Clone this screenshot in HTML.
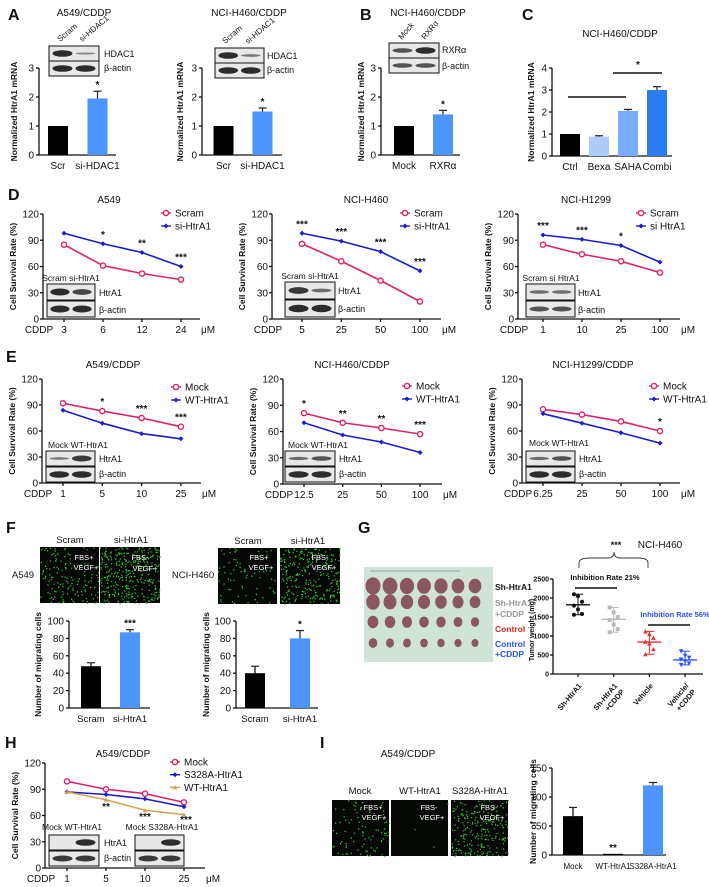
<!DOCTYPE html>
<html><head><meta charset="utf-8">
<style>
html,body{margin:0;padding:0;background:#fff;}
svg{display:block;font-family:"Liberation Sans Narrow","Liberation Sans",sans-serif;}
</style></head>
<body>
<svg id="s" width="709" height="887" viewBox="0 0 709 887" xmlns="http://www.w3.org/2000/svg"></svg>
<script>
// ---------- DATA ----------
const yTicks3 = [0,1,2,3];
const cTicks = [0,1,2,3,4];
const a1Cats = ['Scr','si-HDAC1'];
const a1Vals = [1,1.95];
const a1Errs = [0,0.25];
const a2Cats = ['Scr','si-HDAC1'];
const a2Vals = [1,1.5];
const a2Errs = [0,0.12];
const bCats = ['Mock','RXRα'];
const bVals = [1,1.4];
const bErrs = [0,0.14];
const cCats = ['Ctrl','Bexa','SAHA','Combi'];
const cVals = [1,0.88,2.05,3.0];
const cErrs = [0,0.04,0.07,0.15];

const survTicks = [0,30,60,90,120];
const dA549Doses = ['3','6','12','24'];
const dA549Scram = [85,61,52,45];
const dA549Si = [98,86,76,60];
const dA549Stars = ['','*','**','***'];
const dH460Doses = ['5','25','50','100'];
const dH460Scram = [86,66,44,20];
const dH460Si = [98,89,77,55];
const dH460Stars = ['***','***','***','***'];
const dH1299Doses = ['1','10','25','100'];
const dH1299Scram = [85,74,66,53];
const dH1299Si = [96,91,84,65];
const dH1299Stars = ['***','***','*',''];

const eA549Doses = ['1','5','10','25'];
const eA549Mock = [92,83,75,65];
const eA549WT = [84,69,57,51];
const eA549Stars = ['','*','***','***'];
const eH460Doses = ['12.5','25','50','100'];
const eH460Mock = [81,70,64,57];
const eH460WT = [70,56,48,36];
const eH460Stars = ['*','**','**','***'];
const eH1299Doses = ['6.25','25','50','100'];
const eH1299Mock = [85,79,71,60];
const eH1299WT = [80,69,58,46];
const eH1299Stars = ['','','','*'];

const migTicks = [0,20,40,60,80,100];
const fCats = ['Scram','si-HtrA1'];
const fA549Vals = [48,87];
const fA549Errs = [4,3];
const fH460Vals = [40,80];
const fH460Errs = [8,9];

const gCats = ['Sh-HtrA1','Sh-HtrA1 +CDDP','Vehicle','Vehicle/ +CDDP'];
const gTicks = [0,500,1000,1500,2000,2500];
const gSh = [2100,2050,1900,1800,1700,1580,1560];
const gShC = [1750,1620,1500,1420,1300,1180,1100];
const gVeh = [1120,1050,950,850,800,650,520];
const gVehC = [600,480,430,380,330,280,240];
const gMed = [1820,1440,840,370];

const hDoses = ['1','5','10','25'];
const hMock = [99,90,85,75];
const hS328 = [87,84,79,70];
const hWT = [87,78,66,61];
const hStars = ['','**','***','***'];

const iTicks = [0,50,100,150];
const iCats = ['Mock','WT-HtrA1','S328A-HtrA1'];
const iVals = [67,2,120];
const iErrs = [15,0,5];

// ---------- HELPERS ----------
const NS='http://www.w3.org/2000/svg';
const S=document.getElementById('s');
function el(tag,attrs,name,parent){
  const e=document.createElementNS(NS,tag);
  for(const k in attrs)e.setAttribute(k,attrs[k]);
  
  
  (parent||S).appendChild(e);return e;
}
function tx(x,y,s,size,name,o){
  o=o||{};
  const e=el('text',{x:x,y:y,'font-size':size,'text-anchor':o.a||'middle',fill:o.fill||'#111','font-weight':o.w||'normal'},name);
  if(o.rot)e.setAttribute('transform','rotate('+o.rot+' '+x+' '+y+')');
  e.textContent=s;return e;
}
function ln(x1,y1,x2,y2,name,c,w){return el('line',{x1:x1,y1:y1,x2:x2,y2:y2,stroke:c||'#111','stroke-width':w||1.3},name);}
function blot(x,y,w,h,bands,name){
  el('rect',{x:x,y:y,width:w,height:h,fill:'#e8e8e8',stroke:'#111','stroke-width':1},name);
  bands.forEach((b,i)=>{
    el('ellipse',{cx:x+w*(0.27+0.46*i),cy:y+h/2,rx:w*0.2,ry:h*0.22*b,fill:'#222',opacity:0.3+0.65*Math.min(1,b)},name+'-band');
  });
}
function micro(x,y,w,h,dens,name){
  el('rect',{x:x,y:y,width:w,height:h,fill:'#050805'},name);
  let seed=Math.floor(x*7+y*13);
  function r(){seed=(seed*9301+49297)%233280;return seed/233280;}
  let d='';
  for(let i=0;i<dens;i++){const px=x+r()*w,py=y+r()*h;d+='M'+px.toFixed(1)+' '+py.toFixed(1)+'h1.2v1.2h-1.2z';}
  el('path',{d:d,fill:'#3ccc3c'},name+'-cells');
}
function barChart(c){
  const sy=v=>c.y0-v*c.k;
  const topV=c.ticks[c.ticks.length-1];
  ln(c.ax,c.y0,c.ax,sy(topV),c.id+'-y-axis');
  ln(c.ax,c.y0,c.xEnd,c.y0,c.id+'-x-axis');
  c.ticks.forEach(t=>{ln(c.ax-3,sy(t),c.ax,sy(t),c.id+'-y-tick');tx(c.ax-5,sy(t)+3.5,String(t),c.fs||10,c.id+'-y-tick-label',{a:'end'});});
  c.vals.forEach((v,i)=>{
    const cx=c.x0+i*c.step;
    el('rect',{x:cx-c.bw/2,y:sy(v),width:c.bw,height:v*c.k,fill:c.colors[i]},c.id+'-bar-'+i);
    if(c.errs[i]>0){ln(cx,sy(v),cx,sy(v+c.errs[i]),c.id+'-err',c.colors[i]==='#000'?'#000':'#222',1.2);ln(cx-4,sy(v+c.errs[i]),cx+4,sy(v+c.errs[i]),c.id+'-err-cap','#222',1.2);}
    tx(cx,c.y0+14,c.cats[i],c.lfs||10,c.id+'-x-label');
    if(c.stars&&c.stars[i])tx(cx,sy(v+c.errs[i])-3,c.stars[i],10,c.id+'-sig',{w:'bold'});
  });
  tx(c.ytx,(c.y0+sy(topV))/2,c.ytitle,c.yfs||8.5,c.id+'-y-title',{rot:-90,w:'bold'});
}
function marker(x,y,kind,col,name){
  if(kind==='o')el('circle',{cx:x,cy:y,r:2.6,fill:'#fff',stroke:col,'stroke-width':1.4},name);
  else if(kind==='t')el('path',{d:'M'+(x-2.3)+' '+(y+2)+'L'+x+' '+(y-2.3)+'L'+(x+2.3)+' '+(y+2)+'z',fill:col},name);
  else el('path',{d:'M'+(x-2.5)+' '+y+'L'+x+' '+(y-2.5)+'L'+(x+2.5)+' '+y+'L'+x+' '+(y+2.5)+'z',fill:col},name);
}
function lineChart(c){
  const sy=v=>c.y0-v*(c.y0-c.yTop)/120;
  const sx=i=>c.x0+i*c.step;
  ln(c.ax,c.y0,c.ax,c.yTop,c.id+'-y-axis');
  ln(c.ax,c.y0,c.xEnd,c.y0,c.id+'-x-axis');
  survTicks.forEach(t=>{ln(c.ax-3,sy(t),c.ax,sy(t),c.id+'-y-tick');tx(c.ax-4,sy(t)+3.5,String(t),10,c.id+'-y-tick-label',{a:'end'});});
  c.doses.forEach((d,i)=>{ln(sx(i),c.y0,sx(i),c.y0+3,c.id+'-x-tick');tx(sx(i),c.y0+14,d,10,c.id+'-x-label');});
  tx(c.ax-4,c.y0+14,'CDDP',10,c.id+'-cddp-label');
  tx(c.xEnd+8,c.y0+14,'μM',10,c.id+'-unit-label');
  tx(c.ax-27,(c.y0+c.yTop)/2,'Cell Survival Rate (%)',8.5,c.id+'-y-title',{rot:-90,w:'bold'});
  c.series.forEach((s,k)=>{
    let d='';s.vals.forEach((v,i)=>{d+=(i?'L':'M')+sx(i)+' '+sy(v);});
    el('path',{d:d,fill:'none',stroke:s.col,'stroke-width':1.6},c.id+'-line-'+s.name);
    s.vals.forEach((v,i)=>marker(sx(i),sy(v),s.m,s.col,c.id+'-point-'+s.name));
    const ly=c.legY+k*c.legStep;
    ln(c.legX-5,ly,c.legX+5,ly,c.id+'-legend-line',s.col,1.4);
    marker(c.legX,ly,s.m,s.col,c.id+'-legend-marker');
    tx(c.legX+9,ly+3.5,s.name,10,c.id+'-legend-entry',{a:'start'});
  });
  c.stars.forEach((st,i)=>{if(st){const m=Math.max(...c.series.map(s=>s.vals[i]));tx(sx(i),sy(m)-6,st,10,c.id+'-sig',{w:'bold'});}});
}

// ---------- PANEL LETTERS ----------
[['A',8,20],['B',360,20],['C',522,20],['D',8,200],['E',6,362],['F',6,533],['G',358,533],['H',5,748],['I',320,748]].forEach(p=>tx(p[1],p[2],p[0],16,'panel-label-'+p[0],{w:'bold',a:'start'}));

// ---------- A / B / C ----------
tx(84,16,'A549/CDDP',10,'panel-a1-title');
tx(249,16,'NCI-H460/CDDP',10,'panel-a2-title');
tx(428,16,'NCI-H460/CDDP',10,'panel-b-title');
tx(620,37,'NCI-H460/CDDP',10,'panel-c-title');
tx(60,42,'Scram',8,'a1-lane-scram',{rot:-40,a:'start'});
tx(82,42,'si-HDAC1',8,'a1-lane-si',{rot:-40,a:'start'});
blot(49,46,50,15,[1,0.3],'a1-blot-hdac1');blot(49,61,50,15,[1,1],'a1-blot-actin');
tx(104,57,'HDAC1',9,'a1-blot-label',{a:'start'});tx(104,71,'β-actin',9,'a1-blot-label',{a:'start'});
tx(225,44,'Scram',8,'a2-lane-scram',{rot:-40,a:'start'});tx(248,44,'si-HDAC1',8,'a2-lane-si',{rot:-40,a:'start'});
blot(215,48,49,15,[1,0.4],'a2-blot-hdac1');blot(215,63,49,15,[1,1],'a2-blot-actin');
tx(267,59,'HDAC1',9,'a2-blot-label',{a:'start'});tx(267,73,'β-actin',9,'a2-blot-label',{a:'start'});
tx(402,40,'Mock',8,'b-lane-mock',{rot:-50,a:'start'});tx(425,40,'RXRα',8,'b-lane-rxr',{rot:-50,a:'start'});
blot(389,43,50,15,[0.7,1],'b-blot-rxr');blot(389,58,50,15,[0.7,0.7],'b-blot-actin');
tx(442,53,'RXRα',9,'b-blot-label',{a:'start'});tx(442,69,'β-actin',9,'b-blot-label',{a:'start'});

barChart({id:'a1',ax:39,y0:155,k:29,ticks:yTicks3,cats:a1Cats,vals:a1Vals,errs:a1Errs,stars:['','*'],colors:['#000','#4d94ff'],x0:58,step:39.5,bw:20,xEnd:116,ytx:17,ytitle:'Normalized HtrA1 mRNA'});
barChart({id:'a2',ax:202,y0:155,k:29,ticks:yTicks3,cats:a2Cats,vals:a2Vals,errs:a2Errs,stars:['','*'],colors:['#000','#4d94ff'],x0:223.5,step:39,bw:20,xEnd:282,ytx:183,ytitle:'Normalized HtrA1 mRNA'});
barChart({id:'b',ax:381,y0:155,k:29,ticks:yTicks3,cats:bCats,vals:bVals,errs:bErrs,stars:['','*'],colors:['#000','#4d94ff'],x0:404,step:39,bw:20,xEnd:460,ytx:364,ytitle:'Normalized HtrA1 mRNA'});
barChart({id:'c',ax:552,y0:156,k:22,ticks:cTicks,cats:cCats,vals:cVals,errs:cErrs,colors:['#000','#aecbfa','#79acff','#2a7df0'],x0:570,step:29,bw:20,xEnd:672,ytx:534,ytitle:'Normalized HtrA1 mRNA'});
ln(568,97,626,97,'c-sig-bar-1','#111',1.6);ln(613,73,662,73,'c-sig-bar-2','#111',1.6);tx(638,68,'*',10,'c-sig',{w:'bold'});

// ---------- D ----------
const pink='#e0226e',blue='#1c1ccc',tan='#d4a050';
tx(109,203,'A549',10,'d1-title');tx(366,203,'NCI-H460',10,'d2-title');tx(586,203,'NCI-H1299',10,'d3-title');
lineChart({id:'d1',ax:43,y0:319,yTop:214,x0:64,step:39,xEnd:200,doses:dA549Doses,stars:dA549Stars,legX:166,legY:213,legStep:13,
  series:[{name:'Scram',vals:dA549Scram,col:pink,m:'o'},{name:'si-HtrA1',vals:dA549Si,col:blue,m:'d'}]});
lineChart({id:'d2',ax:272,y0:319,yTop:214,x0:302,step:39.3,xEnd:441,doses:dH460Doses,stars:dH460Stars,legX:405,legY:213,legStep:13,
  series:[{name:'Scram',vals:dH460Scram,col:pink,m:'o'},{name:'si-HtrA1',vals:dH460Si,col:blue,m:'d'}]});
lineChart({id:'d3',ax:518,y0:319,yTop:214,x0:543,step:39,xEnd:680,doses:dH1299Doses,stars:dH1299Stars,legX:641,legY:213,legStep:13,
  series:[{name:'Scram',vals:dH1299Scram,col:pink,m:'o'},{name:'si HtrA1',vals:dH1299Si,col:blue,m:'d'}]});
tx(71,281,'Scram si-HtrA1',8.5,'d1-blot-lanes');blot(47,284,48,16,[1,0.8],'d1-blot-htra1');blot(47,301,48,16,[1,1],'d1-blot-actin');
tx(99,296,'HtrA1',9,'d1-blot-label',{a:'start'});tx(99,313,'β-actin',9,'d1-blot-label',{a:'start'});
tx(310,279,'Scram si-HtrA1',8.5,'d2-blot-lanes');blot(285,282,50,17,[0.9,0.5],'d2-blot-htra1');blot(285,300,50,17,[1,1],'d2-blot-actin');
tx(338,294,'HtrA1',9,'d2-blot-label',{a:'start'});tx(338,312,'β-actin',9,'d2-blot-label',{a:'start'});
tx(551,281,'Scram  si HtrA1',8.5,'d3-blot-lanes');blot(526,284,49,16,[0.5,0.5],'d3-blot-htra1');blot(526,301,49,16,[0.7,0.7],'d3-blot-actin');
tx(578,296,'HtrA1',9,'d3-blot-label',{a:'start'});tx(578,313,'β-actin',9,'d3-blot-label',{a:'start'});

// ---------- E ----------
tx(113,368,'A549/CDDP',10,'e1-title');tx(352,368,'NCI-H460/CDDP',10,'e2-title');tx(593,368,'NCI-H1299/CDDP',10,'e3-title');
lineChart({id:'e1',ax:42,y0:483,yTop:379,x0:63,step:39.3,xEnd:201,doses:eA549Doses,stars:eA549Stars,legX:176,legY:387,legStep:13,
  series:[{name:'Mock',vals:eA549Mock,col:pink,m:'o'},{name:'WT-HtrA1',vals:eA549WT,col:blue,m:'d'}]});
lineChart({id:'e2',ax:283,y0:484,yTop:379,x0:304,step:38.7,xEnd:442,doses:eH460Doses,stars:eH460Stars,legX:407,legY:386,legStep:13,
  series:[{name:'Mock',vals:eH460Mock,col:pink,m:'o'},{name:'WT-HtrA1',vals:eH460WT,col:blue,m:'d'}]});
lineChart({id:'e3',ax:522,y0:483,yTop:379,x0:543,step:39,xEnd:680,doses:eH1299Doses,stars:eH1299Stars,legX:654,legY:386,legStep:13,
  series:[{name:'Mock',vals:eH1299Mock,col:pink,m:'o'},{name:'WT-HtrA1',vals:eH1299WT,col:blue,m:'d'}]});
tx(78,448,'Mock  WT-HtrA1',8.5,'e1-blot-lanes');blot(46,451,49,15,[0.4,0.9],'e1-blot-htra1');blot(46,467,49,15,[1,1],'e1-blot-actin');
tx(99,462,'HtrA1',9,'e1-blot-label',{a:'start'});tx(99,477,'β-actin',9,'e1-blot-label',{a:'start'});
tx(318,448,'Mock  WT-HtrA1',8.5,'e2-blot-lanes');blot(285,451,50,15,[0.5,0.7],'e2-blot-htra1');blot(285,467,50,15,[1,1],'e2-blot-actin');
tx(339,462,'HtrA1',9,'e2-blot-label',{a:'start'});tx(339,477,'β-actin',9,'e2-blot-label',{a:'start'});
tx(559,446,'Mock  WT-HtrA1',8.5,'e3-blot-lanes');blot(526,451,49,15,[0.5,0.7],'e3-blot-htra1');blot(526,467,49,15,[1,1],'e3-blot-actin');
tx(579,462,'HtrA1',9,'e3-blot-label',{a:'start'});tx(579,477,'β-actin',9,'e3-blot-label',{a:'start'});

// ---------- F ----------
tx(70,543,'Scram',9.5,'f1-col-scram');tx(131,543,'si-HtrA1',9.5,'f1-col-si');
tx(23,578,'A549',9.5,'f1-row-label');
micro(40,547,59,56,140,'f1-img-scram');micro(100,547,60,56,320,'f1-img-si');
tx(248,544,'Scram',9.5,'f2-col-scram');tx(308,544,'si-HtrA1',9.5,'f2-col-si');
tx(193,578,'NCI-H460',9.5,'f2-row-label');
micro(218,548,59,56,70,'f2-img-scram');micro(280,548,60,56,260,'f2-img-si');
[[84,560,'FBS+'],[86,570,'VEGF+'],[140,560,'FBS-'],[145,571,'VEGF+'],[259,560,'FBS+'],[261,570,'VEGF+'],[320,560,'FBS-'],[324,570,'VEGF+']].forEach(l=>tx(l[0],l[1],l[2],7.5,'f-img-tag',{fill:'#fff'}));
barChart({id:'f1',ax:69,y0:708,k:0.87,ticks:migTicks,cats:fCats,vals:fA549Vals,errs:fA549Errs,stars:['','***'],colors:['#000','#4d94ff'],x0:91,step:39,bw:20,xEnd:150,ytx:41,ytitle:'Number of migrating cells',lfs:9.5});
barChart({id:'f2',ax:236,y0:708,k:0.87,ticks:migTicks,cats:fCats,vals:fH460Vals,errs:fH460Errs,stars:['','*'],colors:['#000','#4d94ff'],x0:255,step:45,bw:20,xEnd:318,ytx:209,ytitle:'Number of migrating cells',lfs:9.5});

// ---------- G ----------
el('rect',{x:364,y:567,width:129,height:95,fill:'#cfe3d6'},'g-tumor-photo');
ln(370,571,460,571,'g-ruler','#888',0.8);
[[gSh,586],[gShC,602],[gVeh,622],[gVehC,643]].forEach((row,r)=>{
  row[0].forEach((v,i)=>{const rr=3+v/2100*4.5;el('ellipse',{cx:373+i*17,cy:row[1],rx:rr,ry:rr*1.15,fill:'#8a5660'},'g-tumor');});
});
tx(495,590,'Sh-HtrA1',8.5,'g-label-sh',{a:'start',w:'bold'});
tx(495,606,'Sh-HtrA1',8.5,'g-label-shc',{a:'start',fill:'#999',w:'bold'});tx(495,617,'+CDDP',8.5,'g-label-shc2',{a:'start',fill:'#999',w:'bold'});
tx(495,632,'Control',8.5,'g-label-ctrl',{a:'start',fill:'#f02020',w:'bold'});
tx(495,647,'Control',8.5,'g-label-ctrlc',{a:'start',fill:'#2a50ff',w:'bold'});tx(495,657,'+CDDP',8.5,'g-label-ctrlc2',{a:'start',fill:'#2a50ff',w:'bold'});
(function(){
  const ax=553,y0=674,k=95/2500,sy=v=>y0-v*k;
  const xs=i=>578+i*35.7;
  ln(ax,y0,ax,sy(2500),'g-y-axis');ln(ax,y0,703,y0,'g-x-axis');
  gTicks.forEach(t=>{ln(ax-3,sy(t),ax,sy(t),'g-y-tick');tx(ax-4,sy(t)+2.5,String(t),7,'g-y-tick-label',{a:'end',w:'bold'});});
  tx(534,630,'Tumor weight  (mg)',7,'g-y-title',{rot:-90,w:'bold'});
  const groups=[gSh,gShC,gVeh,gVehC],cols=['#111','#bbb','#f03030','#2a50ff'];
  groups.forEach((g,i)=>{
    const cx=xs(i);ln(cx,y0,cx,y0+3,'g-x-tick');
    g.forEach((v,j)=>{const dx=((j%3)-1)*4;
      if(i===0)el('circle',{cx:cx+dx,cy:sy(v),r:2,fill:cols[i]},'g-point');
      else if(i===1)el('rect',{x:cx+dx-2,y:sy(v)-2,width:4,height:4,fill:cols[i]},'g-point');
      else if(i===2)marker(cx+dx,sy(v),'t',cols[i],'g-point');
      else el('path',{d:'M'+(cx+dx-2.3)+' '+(sy(v)-2)+'L'+(cx+dx)+' '+(sy(v)+2.3)+'L'+(cx+dx+2.3)+' '+(sy(v)-2)+'z',fill:cols[i]},'g-point');
    });
    ln(cx-12,sy(gMed[i]),cx+12,sy(gMed[i]),'g-median',cols[i],1.4);
    const mx=Math.max(...g),mn=Math.min(...g);
    ln(cx,sy(mx),cx,sy(mn),'g-range',cols[i],1);ln(cx-5,sy(mx),cx+5,sy(mx),'g-range-cap',cols[i],1);ln(cx-5,sy(mn),cx+5,sy(mn),'g-range-cap',cols[i],1);
    const lab=gCats[i].split(' ');
    lab.forEach((l,q)=>tx(cx+4+q*7,y0+12+q*6,l,7.5,'g-x-label',{rot:-50,a:'end',w:'bold'}));
  });
  ln(575,588,617,588,'g-inhib-line-1','#111',1.4);tx(605,580,'Inhibition Rate 21%',7.5,'g-inhib-21',{w:'bold'});
  ln(648,625,690,625,'g-inhib-line-2','#111',1.4);tx(675,617,'Inhibition Rate 56%',7.5,'g-inhib-56',{w:'bold',fill:'#2a50ff'});
  el('path',{d:'M579 568 V563 Q579 558 590 558 H608 Q614 558 614 552 Q614 558 620 558 H638 Q648 558 648 563 V568',fill:'none',stroke:'#333','stroke-width':0.9},'g-bracket');
  tx(616,548,'***',9,'g-sig',{w:'bold'});tx(660,548,'NCI-H460',10,'g-title');
})();

// ---------- H ----------
tx(123,757,'A549/CDDP',10,'h-title');
lineChart({id:'h',ax:45,y0:868,yTop:763,x0:67,step:39,xEnd:205,doses:hDoses,stars:[],legX:175,legY:762,legStep:12.7,
  series:[{name:'Mock',vals:hMock,col:pink,m:'o'},{name:'S328A-HtrA1',vals:hS328,col:blue,m:'d'},{name:'WT-HtrA1',vals:hWT,col:tan,m:'t'}]});
tx(106,810,'**',10,'h-sig',{w:'bold'});tx(145,820,'***',10,'h-sig',{w:'bold'});tx(186,823,'***',10,'h-sig',{w:'bold'});
tx(72,830,'Mock  WT-HtrA1',8.5,'h-blot-lanes-1');tx(162,830,'Mock  S328A-HtrA1',8.5,'h-blot-lanes-2');
blot(49,835,50,15,[0,1],'h-blot1-htra1');blot(49,851,50,15,[0.9,0.9],'h-blot1-actin');
blot(135,835,49,15,[0,1],'h-blot2-htra1');blot(135,851,49,15,[0.9,0.9],'h-blot2-actin');
tx(104,846,'HtrA1',9,'h-blot-label',{a:'start'});tx(104,861,'β-actin',9,'h-blot-label',{a:'start'});

// ---------- I ----------
tx(408,757,'A549/CDDP',10,'i-title');
tx(360,794,'Mock',9.5,'i-col-mock');tx(420,794,'WT-HtrA1',9.5,'i-col-wt');tx(480,794,'S328A-HtrA1',9.5,'i-col-s328a');
micro(332,800,57,56,90,'i-img-mock');micro(391,800,57,56,4,'i-img-wt');micro(451,800,57,56,220,'i-img-s328a');
[[373,810,'FBS+'],[374,820,'VEGF+'],[429,810,'FBS-'],[432,820,'VEGF+'],[489,810,'FBS-'],[492,820,'VEGF+']].forEach(l=>tx(l[0],l[1],l[2],7.5,'i-img-tag',{fill:'#fff'}));
barChart({id:'i',ax:552,y0:855,k:0.58,ticks:iTicks,cats:iCats,vals:iVals,errs:iErrs,stars:['','**',''],colors:['#000','#000','#4d94ff'],x0:573,step:40,bw:20,xEnd:666,ytx:536,ytitle:'Number of migrating cells',lfs:8});
</script>
</body></html>
